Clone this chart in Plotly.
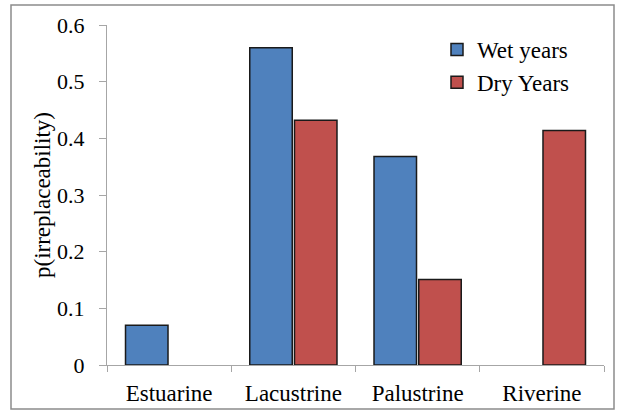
import plotly.graph_objects as go

categories = ["Estuarine", "Lacustrine", "Palustrine", "Riverine"]
wet_years = [0.07, 0.56, 0.368, None]
dry_years = [None, 0.432, 0.151, 0.414]
y_ticks = [0, 0.1, 0.2, 0.3, 0.4, 0.5, 0.6]
y_tick_labels = ["0", "0.1", "0.2", "0.3", "0.4", "0.5", "0.6"]

font_family = "Liberation Serif, Times New Roman, serif"

fig = go.Figure()
fig.add_trace(go.Bar(
    x=categories, y=wet_years, name="Wet years",
    marker=dict(color="#4F81BD", line=dict(color="#1a1a1a", width=1.5)),
))
fig.add_trace(go.Bar(
    x=categories, y=dry_years, name="Dry Years",
    marker=dict(color="#C0504D", line=dict(color="#1a1a1a", width=1.5)),
))

L, R, T, B = 107, 20, 25, 46
W, H = 624, 411
pw, ph = W - L - R, H - T - B

fig.update_layout(
    width=W, height=H,
    margin=dict(l=L, r=R, t=T, b=B, autoexpand=False),
    paper_bgcolor="white", plot_bgcolor="white",
    barmode="group", bargap=0.28, bargroupgap=0.05,
    font=dict(family=font_family, size=22, color="#000000"),
    showlegend=True,
    legend=dict(
        x=(437 - L) / pw, y=1 - (28 - T) / ph, xanchor="left", yanchor="top",
        bgcolor="rgba(0,0,0,0)", font=dict(size=23, family=font_family),
        itemwidth=30, tracegroupgap=0,
    ),
    xaxis=dict(
        showline=True, linecolor="#a6a6a6", linewidth=1,
        ticks="outside", tickson="boundaries", ticklen=6, tickcolor="#a6a6a6",
        tickfont=dict(size=23, family=font_family), showgrid=False,
        ticklabelstandoff=7, automargin=False,
    ),
    yaxis=dict(
        range=[0, 0.6], tickvals=y_ticks, ticktext=y_tick_labels,
        showline=True, linecolor="#a6a6a6", linewidth=1,
        ticks="outside", ticklen=7, tickcolor="#a6a6a6",
        tickfont=dict(size=22, family=font_family), showgrid=False,
        zeroline=False, ticklabelstandoff=10, automargin=False,
        title=dict(text="p(irreplaceability)", font=dict(size=23, family=font_family), standoff=0),
    ),
    shapes=[dict(
        type="rect", xref="paper", yref="paper",
        x0=(11 - L) / pw, x1=(614 - L) / pw,
        y0=1 - (409 - T) / ph, y1=1 - (5 - T) / ph,
        line=dict(color="#8c8c8c", width=1.5), fillcolor="rgba(0,0,0,0)", layer="below",
    )],
)

fig.write_html("out.html", config={"displayModeBar": False},
               post_script="document.body.style.margin='0';")
